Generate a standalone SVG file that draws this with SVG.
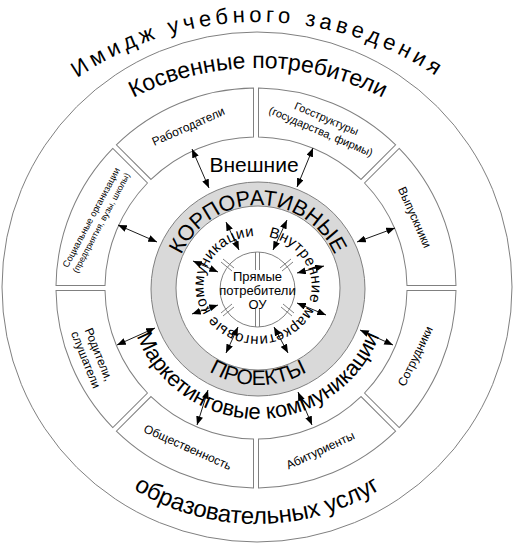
<svg xmlns="http://www.w3.org/2000/svg" width="515" height="545" viewBox="0 0 515 545">
<style>
.ln{fill:none;stroke:#808080;stroke-width:1}
.box{fill:#fff;stroke:#808080;stroke-width:1}
.t{font-family:"Liberation Sans",Arial,sans-serif;fill:#000}
.arr{stroke:#000;stroke-width:0.9;fill:none;marker-start:url(#ah);marker-end:url(#ah)}
</style>
<defs>
<marker id="ah" viewBox="0 0 10 8" refX="10" refY="4" markerWidth="9" markerHeight="7" markerUnits="userSpaceOnUse" orient="auto-start-reverse"><path d="M0,0 L10,4 L0,8 Z" fill="#000"/></marker>
<path id="box" d="M-74.22,-185.72 A200,200 0 0 1 74.22,-185.72 L55.47,-140.45 A151,151 0 0 0 -55.47,-140.45 Z"/>
<path id="pImage" d="M-62,342 A320,320 0 0 1 578,342"/>
<path id="pKosv" d="M-17,343 A275,275 0 0 1 533,343"/>
<path id="pObr" d="M21,288 A236,236 0 0 0 493,288"/>
<path id="pMark" d="M128,289 A130,130 0 0 0 388,289"/>
<path id="pKorp" d="M174,289 A84,84 0 0 1 342,289"/>
<path id="pProj" d="M162,289 A96,96 0 0 0 354,289"/>
<path id="pIn" d="M257.5,236 A54,50 0 1 1 257.5,336 A54,50 0 1 1 257.5,236"/>
</defs>
<g id="outer"><circle class="ln" cx="257" cy="287" r="255"/></g>
<g id="title"><text class="t" font-size="22" letter-spacing="4.3"><textPath href="#pImage" startOffset="50%" text-anchor="middle">Имидж учебного заведения</textPath></text></g>
<g id="kosv"><text class="t" font-size="23"><textPath href="#pKosv" startOffset="50%" text-anchor="middle">Косвенные потребители</textPath></text></g>
<g id="obr"><text class="t" font-size="24"><textPath href="#pObr" startOffset="50%" text-anchor="middle">образовательных услуг</textPath></text></g>
<g id="boxes" transform="translate(256,288)">
<g id="b-rabot"><use href="#box" class="box" transform="rotate(-22.5)"/></g>
<g id="b-gos"><use href="#box" class="box" transform="rotate(22.5)"/></g>
<g id="b-vyp"><use href="#box" class="box" transform="rotate(67.5)"/></g>
<g id="b-sotr"><use href="#box" class="box" transform="rotate(112.5)"/></g>
<g id="b-abit"><use href="#box" class="box" transform="rotate(157.5)"/></g>
<g id="b-obsh"><use href="#box" class="box" transform="rotate(202.5)"/></g>
<g id="b-rod"><use href="#box" class="box" transform="rotate(247.5)"/></g>
<g id="b-soc"><use href="#box" class="box" transform="rotate(292.5)"/></g>
</g>
<g id="boxtext" class="t" text-anchor="middle">
<text font-size="12" transform="translate(190,130) rotate(-24)">Работодатели</text>
<text font-size="11" transform="translate(325,122) rotate(23)"><tspan x="0" y="0">Госструктуры</tspan><tspan x="0" y="14">(государства, фирмы)</tspan></text>
<text transform="translate(94,219) rotate(-62)"><tspan x="0" y="0" font-size="9.3">Социальные организации</tspan><tspan x="0" y="11" font-size="8.6">(предприятия, вузы, школы)</tspan></text>
<text font-size="12" transform="translate(411,219) rotate(66)">Выпускники</text>
<text font-size="12" transform="translate(95,356) rotate(68)"><tspan x="0" y="0">Родители,</tspan><tspan x="0" y="14">слушатели</tspan></text>
<text font-size="12" transform="translate(419,358) rotate(-64)">Сотрудники</text>
<text font-size="12" transform="translate(186,451) rotate(24)">Общественность</text>
<text font-size="12" transform="translate(322,454) rotate(-25)">Абитуриенты</text>
</g>
<g id="vnesh"><text class="t" font-size="21" x="254" y="172" text-anchor="middle">Внешние</text></g>
<g id="mark"><text class="t" font-size="22"><textPath href="#pMark" startOffset="50%" text-anchor="middle">Маркетинговые коммуникации</textPath></text></g>
<g id="ring">
<circle cx="258" cy="289" r="107" fill="#d9d9d9" stroke="#808080"/>
<circle cx="258" cy="288" r="82" fill="#fff" stroke="#808080"/>
<text class="t" font-size="21.5"><textPath href="#pKorp" startOffset="50%" text-anchor="middle">КОРПОРАТИВНЫЕ</textPath></text>
<text class="t" font-size="21"><textPath href="#pProj" startOffset="50%" text-anchor="middle">ПРОЕКТЫ</textPath></text>
</g>
<g id="inner-text"><text class="t" font-size="15" letter-spacing="0.4"><textPath href="#pIn" startOffset="11">Внутренние маркетинговые коммуникации</textPath></text></g>
<g id="center">
<circle class="ln" cx="257.5" cy="289.5" r="37.5" fill="#fff"/>
<g class="ln">
<path d="M255.5,252 V270 M259.5,252 V270 M255.5,309 V327 M259.5,309 V327"/>
<path d="M280,268 L291,259 M282,271 L293,262 M223,316 L234,307 M221,313 L232,304"/>
<path d="M234,268 L223,259 M232,271 L221,262 M281,307 L292,316 M283,304 L294,313"/>
</g>
<text class="t" font-size="13" text-anchor="middle"><tspan x="257.5" y="281">Прямые</tspan><tspan x="257.5" y="295">потребители</tspan><tspan x="257.5" y="309">ОУ</tspan></text>
</g>
<g id="connectors">
<line class="arr" x1="192" y1="149" x2="209" y2="188"/>
<line class="arr" x1="313" y1="148" x2="297" y2="187"/>
<line class="arr" x1="118" y1="225" x2="157" y2="242"/>
<line class="arr" x1="395" y1="228" x2="357" y2="242"/>
<line class="arr" x1="117" y1="345" x2="155" y2="328"/>
<line class="arr" x1="393" y1="345" x2="360" y2="330"/>
<line class="arr" x1="208" y1="390" x2="197" y2="425"/>
<line class="arr" x1="298" y1="392" x2="312" y2="425"/>
<line class="arr" x1="226" y1="222" x2="239" y2="250"/>
<line class="arr" x1="287" y1="220" x2="273" y2="250"/>
<line class="arr" x1="193" y1="261" x2="218" y2="272"/>
<line class="arr" x1="324" y1="266" x2="297" y2="273"/>
<line class="arr" x1="192" y1="314" x2="218" y2="305"/>
<line class="arr" x1="326" y1="315" x2="297" y2="303"/>
<line class="arr" x1="226" y1="353" x2="238" y2="327"/>
<line class="arr" x1="288" y1="353" x2="274" y2="327"/>
</g>
</svg>
